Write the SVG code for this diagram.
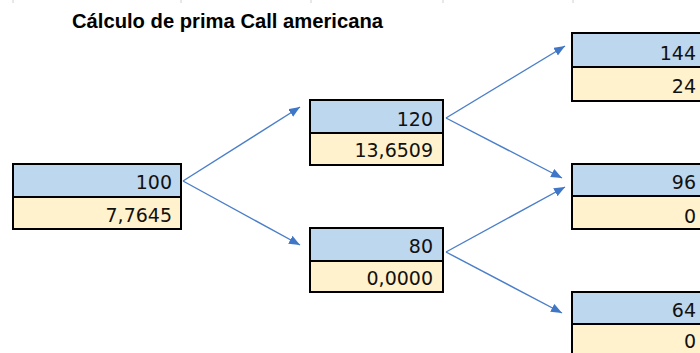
<svg xmlns="http://www.w3.org/2000/svg" width="700" height="353" viewBox="0 0 700 353">
<style>
.top{fill:#BDD7EE;stroke:#000;stroke-width:2}
.bot{fill:#FFF2CC;stroke:#000;stroke-width:2}
.num{font-family:"DejaVu Sans",sans-serif;font-size:19px;fill:#111;text-anchor:end}
.title{font-family:"Liberation Sans",Arial,sans-serif;font-size:20px;font-weight:bold;fill:#000}
.conn line{stroke:#4A7EC8;stroke-width:1.4;marker-end:url(#ah)}
.grid{stroke:#D0D0D0;stroke-width:1}
</style>
<defs>
<marker id="ah" markerUnits="userSpaceOnUse" markerWidth="12" markerHeight="10" refX="11" refY="4.5" orient="auto">
<path d="M0,0 L11,4.5 L0,9 z" fill="#3F76C7"/>
</marker>
</defs>
<rect width="700" height="353" fill="#fff"/>
<g id="grid" class="grid">
<line x1="13" y1="0" x2="13" y2="3"/>
<line x1="181" y1="0" x2="181" y2="3"/>
<line x1="311" y1="0" x2="311" y2="3"/>
<line x1="443" y1="0" x2="443" y2="3"/>
<line x1="573" y1="0" x2="573" y2="3"/>
</g>
<text id="title" class="title" x="72" y="28" textLength="311" lengthAdjust="spacingAndGlyphs">Cálculo de prima Call americana</text>
<g id="connectors" class="conn">
<line x1="183" y1="181" x2="300" y2="107"/>
<line x1="183" y1="181" x2="300" y2="245"/>
<line x1="446" y1="118" x2="565" y2="46"/>
<line x1="446" y1="118" x2="562" y2="178"/>
<line x1="446" y1="252" x2="565" y2="187"/>
<line x1="446" y1="252" x2="562" y2="313"/>
</g>
<g id="node-100">
<rect class="top" x="13" y="164" width="168" height="33"/>
<rect class="bot" x="13" y="197" width="168" height="32"/>
<text class="num" x="172" y="189">100</text>
<text class="num" x="172" y="221.5">7,7645</text>
</g>
<g id="node-120">
<rect class="top" x="310" y="100" width="133" height="33"/>
<rect class="bot" x="310" y="133" width="133" height="32"/>
<text class="num" x="433" y="125.5">120</text>
<text class="num" x="433" y="156.5">13,6509</text>
</g>
<g id="node-80">
<rect class="top" x="310" y="228" width="133" height="33"/>
<rect class="bot" x="310" y="261" width="133" height="31"/>
<text class="num" x="433" y="253">80</text>
<text class="num" x="433" y="285">0,0000</text>
</g>
<g id="node-144">
<rect class="top" x="572" y="33" width="140" height="34"/>
<rect class="bot" x="572" y="67" width="140" height="34"/>
<text class="num" x="696" y="60">144</text>
<text class="num" x="696" y="93">24</text>
</g>
<g id="node-96">
<rect class="top" x="572" y="164" width="140" height="32"/>
<rect class="bot" x="572" y="196" width="140" height="33"/>
<text class="num" x="696" y="189">96</text>
<text class="num" x="696" y="222.5">0</text>
</g>
<g id="node-64">
<rect class="top" x="572" y="292" width="140" height="32"/>
<rect class="bot" x="572" y="324" width="140" height="34"/>
<text class="num" x="696" y="316.5">64</text>
<text class="num" x="696" y="348">0</text>
</g>
</svg>
